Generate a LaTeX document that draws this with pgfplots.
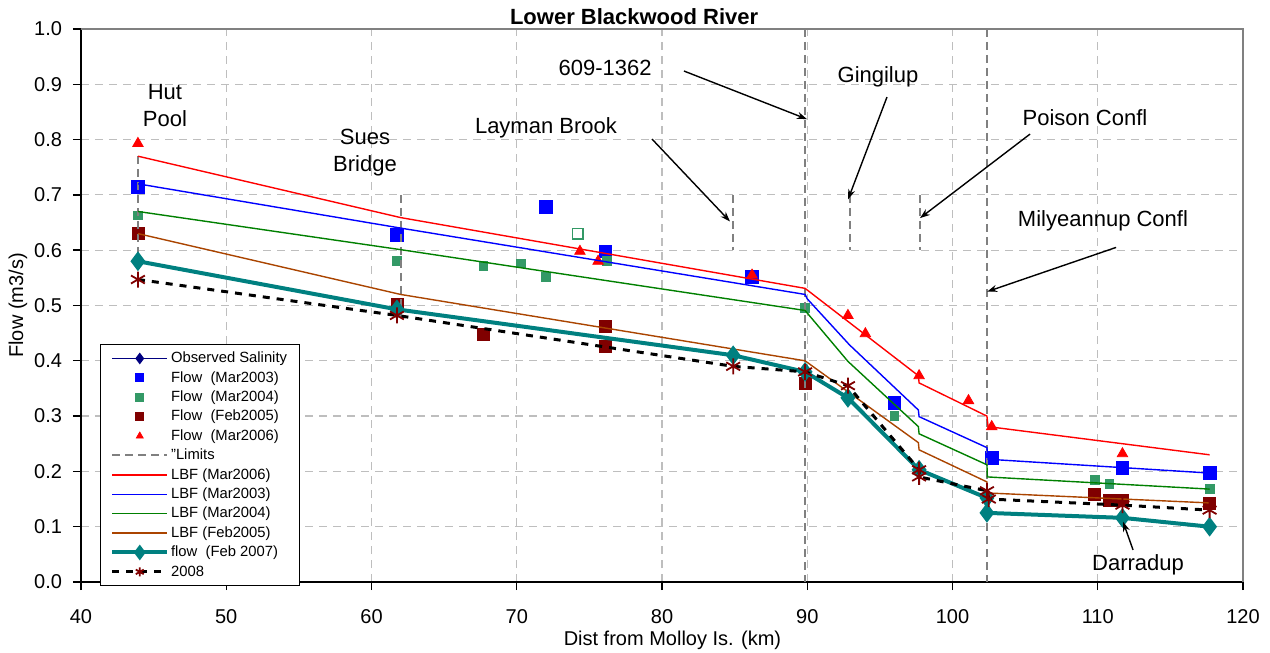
\documentclass[border=0pt]{standalone}
\usepackage{pgfplots}
\pgfplotsset{compat=1.18}
\usetikzlibrary{arrows.meta}
\usepackage{fontspec}
\setmainfont{Liberation Sans}
\definecolor{mgreen}{RGB}{51,153,102}
\definecolor{lgreen}{RGB}{0,128,0}
\definecolor{mdred}{RGB}{128,0,0}
\definecolor{mbrown}{RGB}{170,68,0}
\definecolor{mteal}{RGB}{0,128,128}
\definecolor{mnavy}{RGB}{0,0,128}
\definecolor{lim}{RGB}{128,128,128}
\definecolor{gridc}{RGB}{190,190,190}
\pgfplotsset{markleg/.style={legend image code/.code={\draw[##1, mark size=2pt] plot coordinates {(0.48cm,0cm)};}}}
\begin{document}
\begin{tikzpicture}
\begin{axis}[
  scale only axis, width=581pt, height=276.5pt,
  xmin=40, xmax=120, ymin=0, ymax=1,
  xtick={40,50,60,70,80,90,100,110,120},
  ytick={0,0.1,0.2,0.3,0.4,0.5,0.6,0.7,0.8,0.9,1.0},
  yticklabel style={/pgf/number format/fixed,/pgf/number format/fixed zerofill,/pgf/number format/precision=1, xshift=-2pt},
  xticklabel style={yshift=-6pt},
  /pgf/number format/assume math mode=true,
  ticklabel style={font=\fontsize{10}{12}\selectfont},
  axis x line*=bottom, axis y line*=left,
  axis line style={black, line width=0.8pt},
  tick style={black, line width=0.7pt},
  tick align=outside, major tick length=4pt,
  grid=major,
  major grid style={gridc, dash pattern=on 4pt off 3pt, line width=0.6pt},
  clip mode=individual,
  title={Lower Blackwood River},
  title style={font=\bfseries\fontsize{11}{13}\selectfont, at={(0.476,1)}, yshift=-7.5pt},
  xlabel={Dist from Molloy Is. (km)},
  ylabel={Flow (m3/s)},
  label style={font=\fontsize{10}{12}\selectfont},
  xlabel style={at={(axis description cs:0.509,0)}, anchor=center, yshift=-29pt},
  ylabel style={at={(axis description cs:-0.0542,0.5)}, anchor=center},
  legend style={at={(0.0164,-0.0072)}, anchor=south west, draw=black,
    font=\fontsize{7.4}{9}\selectfont, inner xsep=5pt, inner ysep=2pt, row sep=0pt,
    nodes={inner sep=1pt, text height=6pt, text depth=1.7pt}},
  legend cell align=left,
  legend image code/.code={\draw[mark repeat=2,mark phase=2,#1, mark size=2.3pt] plot coordinates {(0cm,0cm) (0.48cm,0cm) (0.96cm,0cm)};},
]
\draw[gray, line width=0.8pt] (rel axis cs:0,1) -- (rel axis cs:1,1) -- (rel axis cs:1,0);

\addlegendimage{mnavy, line width=0.8pt, mark=diamond*, mark size=2.5pt}
\addlegendentry{Observed Salinity}

\addplot[only marks, mark=square*, blue, mark size=3.2pt, markleg]
coordinates {(43.92,0.714)(61.75,0.627)(72.0,0.679)(76.1,0.598)(86.2,0.551)(96.0,0.324)(102.7,0.225)(111.7,0.207)(117.7,0.197)};
\addlegendentry{Flow\ \ (Mar2003)}

\addplot[only marks, mark=square*, mgreen, mark size=2.2pt, markleg]
coordinates {(43.92,0.663)(61.75,0.580)(67.7,0.571)(70.3,0.576)(72.0,0.551)(76.2,0.580)(89.85,0.495)(96.0,0.300)(109.8,0.185)(110.8,0.178)(117.7,0.168)};
\addlegendentry{Flow\ \ (Mar2004)}

\addplot[only marks, mark=square*, mdred, mark size=3pt, markleg]
coordinates {(43.92,0.630)(61.75,0.502)(67.7,0.447)(76.1,0.462)(76.1,0.426)(89.85,0.360)(109.8,0.159)(110.8,0.147)(111.7,0.147)(117.7,0.143)};
\addlegendentry{Flow\ \ (Feb2005)}

\addplot[only marks, mark=triangle*, red, mark size=3pt, markleg]
coordinates {(43.92,0.793)(74.35,0.598)(75.6,0.580)(86.2,0.555)(92.8,0.482)(94.0,0.449)(97.7,0.373)(101.1,0.328)(102.7,0.281)(111.7,0.232)};
\addlegendentry{Flow\ \ (Mar2006)}

\addplot[lim, line width=1pt, dash pattern=on 4pt off 2.5pt, unbounded coords=jump]
coordinates {(43.92,0.77)(43.92,0.55)(43.92,nan)
(62.0,0.70)(62.0,0.48)(62.0,nan)
(84.9,0.70)(84.9,0.60)(84.9,nan)
(89.87,1.0)(89.87,0)(89.87,nan)
(92.95,0.70)(92.95,0.60)(92.95,nan)
(97.76,0.70)(97.76,0.60)(97.76,nan)
(102.37,1.0)(102.37,0)};
\addlegendentry{"Limits}

\addplot[red, line width=0.7pt]
coordinates {(43.92,0.770)(62.0,0.659)(89.85,0.531)(97.65,0.373)(97.7,0.360)(102.37,0.300)(102.45,0.281)(117.7,0.230)};
\addlegendentry{LBF (Mar2006)}

\addplot[blue, line width=0.7pt]
coordinates {(43.92,0.720)(62.0,0.640)(89.85,0.520)(90.0,0.512)(92.9,0.429)(97.65,0.311)(97.7,0.299)(102.37,0.243)(102.45,0.222)(117.7,0.197)};
\addlegendentry{LBF (Mar2003)}

\addplot[lgreen, line width=0.7pt]
coordinates {(43.92,0.670)(62.0,0.601)(89.85,0.491)(92.8,0.399)(97.65,0.281)(97.7,0.268)(102.37,0.212)(102.4,0.190)(117.7,0.168)};
\addlegendentry{LBF (Mar2004)}

\addplot[mbrown, line width=0.7pt]
coordinates {(43.92,0.630)(62.0,0.520)(89.85,0.400)(97.65,0.252)(97.7,0.239)(102.37,0.181)(102.4,0.161)(117.7,0.143)};
\addlegendentry{LBF (Feb2005)}

\addplot[mteal, line width=2pt, mark=diamond*, mark size=3.3pt, mark options={solid, fill=mteal}]
coordinates {(43.92,0.580)(61.75,0.493)(84.9,0.410)(89.85,0.380)(92.8,0.333)(97.7,0.203)(102.37,0.152)(102.37,0.125)(111.7,0.116)(117.7,0.100)};
\addlegendentry{flow\ \ (Feb 2007)}

\addplot[black, line width=1.5pt, dash pattern=on 3.5pt off 3.5pt, mark=asterisk, mark size=4pt, mark options={solid, mdred, line width=0.9pt}]
coordinates {(43.92,0.547)(61.75,0.482)(84.9,0.390)(89.85,0.380)(92.8,0.355)(97.7,0.203)(97.7,0.190)(102.37,0.165)(102.5,0.150)(111.7,0.139)(117.7,0.130)};
\addlegendentry{2008}

\addplot[only marks, mark=square, mark size=2.6pt, mark options={mgreen, fill=white, line width=0.8pt}, forget plot]
coordinates {(74.2,0.630)};

\tikzset{ann/.style={font=\fontsize{11}{13.5}\selectfont, align=center}, arr/.style={-{Stealth[length=5pt,width=3.5pt]}, line width=0.7pt, black}}
\node[ann] at (axis cs:45.78,0.861) {Hut\\Pool};
\node[ann] at (axis cs:59.55,0.777) {Sues\\Bridge};
\node[ann] at (axis cs:72.01,0.821) {Layman Brook};
\node[ann] at (axis cs:76.08,0.929) {609-1362};
\node[ann] at (axis cs:94.87,0.913) {Gingilup};
\node[ann] at (axis cs:109.12,0.839) {Poison Confl};
\node[ann] at (axis cs:110.36,0.654) {Milyeannup Confl};
\node[ann] at (axis cs:112.77,0.031) {Darradup};
\draw[arr] (axis cs:81.51,0.924) -- (axis cs:89.98,0.837);
\draw[arr] (axis cs:79.31,0.801) -- (axis cs:84.68,0.652);
\draw[arr] (axis cs:95.49,0.877) -- (axis cs:92.81,0.692);
\draw[arr] (axis cs:105.34,0.810) -- (axis cs:97.76,0.658);
\draw[arr] (axis cs:111.26,0.605) -- (axis cs:102.38,0.525);
\draw[arr] (axis cs:112.43,0.058) -- (axis cs:111.74,0.109);
\end{axis}
\pgfresetboundingbox
\path[use as bounding box] ([xshift=-40.5pt,yshift=-35pt]current axis.south west) rectangle ([xshift=13.5pt,yshift=14.5pt]current axis.north east);
\end{tikzpicture}
\end{document}
